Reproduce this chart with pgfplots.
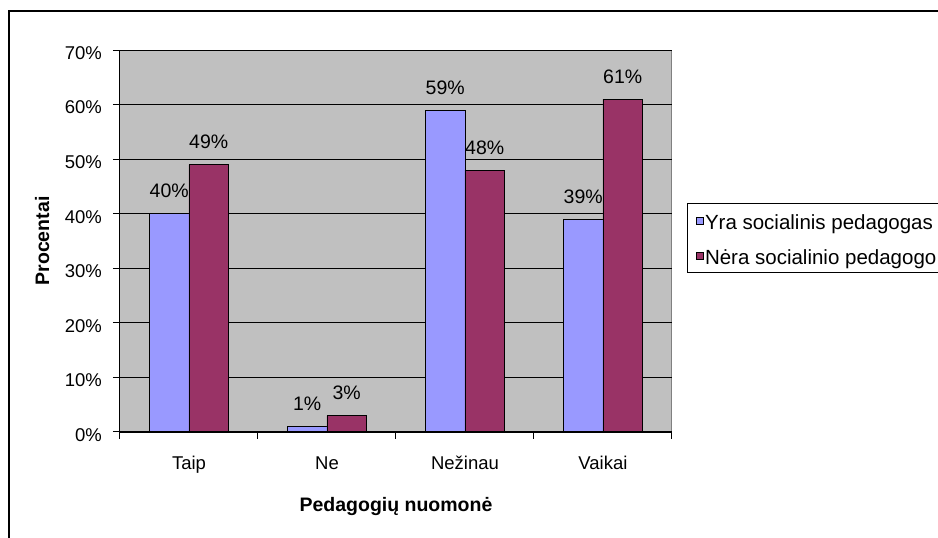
\documentclass[border=0pt]{standalone}
\usepackage{pgfplots}
\pgfplotsset{compat=1.18}
\usetikzlibrary{calc}
\usepackage{fontspec}
\setmainfont{Liberation Sans}
\definecolor{serA}{HTML}{9999FF}
\definecolor{serB}{HTML}{993366}
\definecolor{plotbg}{HTML}{C0C0C0}
\begin{document}
\begin{tikzpicture}[x=1pt,y=1pt]
\begin{axis}[
  scale only axis, width=552pt, height=382pt,
  ybar=0pt, bar width=39.5pt,
  xmin=-0.5, xmax=3.5, ymin=0, ymax=70,
  xtick={0,1,2,3}, xticklabels={Taip,Ne,Nežinau,Vaikai},
  minor xtick={-0.5,0.5,1.5,2.5,3.5},
  ytick={0,10,...,70},
  /pgf/number format/assume math mode=true,
  yticklabel={\pgfmathprintnumber{\tick}\%},
  ymajorgrids, y grid style={black, line width=0.8pt},
  axis line style={draw=none},
  axis background/.style={fill=plotbg, draw=gray, line width=1pt},
  xtick pos=bottom, ytick pos=left,
  tick align=outside,
  major tick length=7pt, minor tick length=7pt,
  tick style={black, line width=1pt},
  major x tick style={draw=none},
  yticklabel style={font=\fontsize{18.5}{20}\selectfont, anchor=base east, inner sep=0pt, xshift=-11pt, yshift=-9.3pt},
  xticklabel style={font=\fontsize{18.5}{20}\selectfont, anchor=base, inner sep=0pt, yshift=-31pt},
  xlabel={\textbf{Pedagogių nuomonė}},
  ylabel={\textbf{Procentai}},
  xlabel style={font=\fontsize{19.5}{22}\selectfont, at={(axis description cs:0.5,-0.2094)}, anchor=base, inner sep=0pt},
  ylabel style={font=\fontsize{19.5}{22}\selectfont, at={(axis description cs:-0.1286,0.5)}, anchor=base, inner sep=0pt},
  nodes near coords={\pgfmathprintnumber{\pgfplotspointmeta}\%},
  nodes near coords style={font=\fontsize{19.5}{22}\selectfont, anchor=base, inner sep=0pt, yshift=16pt},
  legend style={at={(rel axis cs:1.0272,0.5995)}, anchor=north west, draw=black, line width=0.8pt, fill=white,
    font=\fontsize{20.5}{24}\selectfont, inner xsep=9pt, inner ysep=8pt, row sep=17pt, column sep=1pt,
    nodes={inner sep=0pt, text height=18pt, text depth=0pt}},
  legend cell align=left,
  after end axis/.code={\draw[black, line width=1pt] (rel axis cs:0,1) -- (rel axis cs:0,0) -- (rel axis cs:1,0);
    \coordinate (O) at (rel axis cs:0,0);},
]
\addplot[fill=serA, draw=black, line width=0.8pt,
  legend image code/.code={\draw[fill=serA, draw=black, line width=0.6pt] (0pt,-4pt) rectangle (7pt,3pt);}]
  coordinates {(0,40) (1,1) (2,59) (3,39)};
\addplot[fill=serB, draw=black, line width=0.8pt,
  legend image code/.code={\draw[fill=serB, draw=black, line width=0.6pt] (0pt,-4pt) rectangle (7pt,3pt);}]
  coordinates {(0,49) (1,3) (2,48) (3,61)};
\legend{Yra socialinis pedagogas, Nėra socialinio pedagogo}
\end{axis}
\pgfresetboundingbox
\path[use as bounding box] ($(O)+(-120,-106)$) rectangle ($(O)+(818,432)$);
\draw[line width=1.6pt] ($(O)+(-111,-120)$) -- ($(O)+(-111,421)$) -- ($(O)+(830,421)$);
\end{tikzpicture}
\end{document}
